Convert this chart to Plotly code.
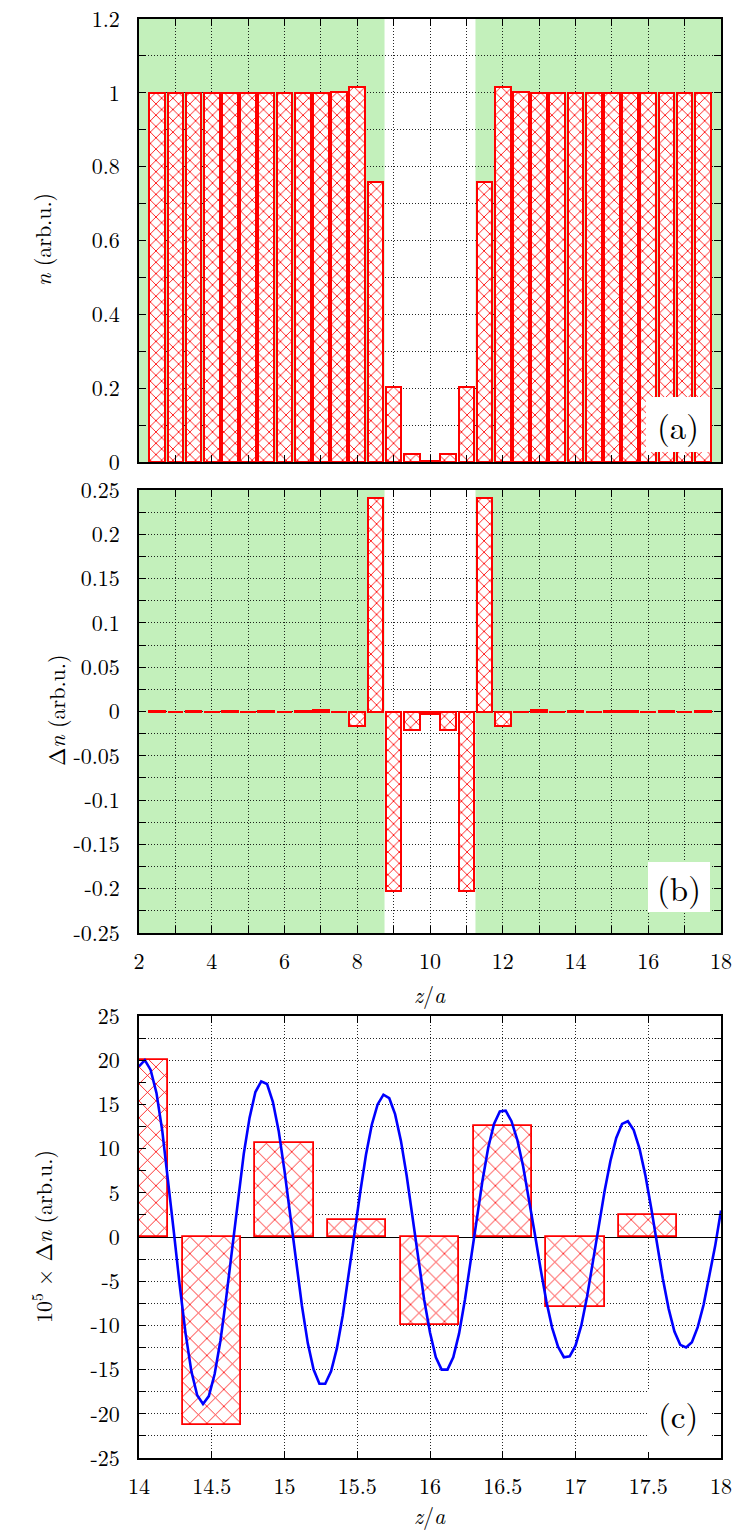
import plotly.graph_objects as go

# ---------------- data ----------------
# cell centres along z/a (panels a and b)
z_cells = [2.5, 3.0, 3.5, 4.0, 4.5, 5.0, 5.5, 6.0, 6.5, 7.0, 7.5, 8.0, 8.5, 9.0, 9.5, 10.0,
           10.5, 11.0, 11.5, 12.0, 12.5, 13.0, 13.5, 14.0, 14.5, 15.0, 15.5, 16.0, 16.5, 17.0, 17.5]
# occupation n (arb.u.)
n_vals = [1.0, 1.0, 1.0, 1.0, 1.0, 1.0, 1.0, 1.0, 1.0, 1.0, 1.002, 1.016, 0.758, 0.202, 0.021, 0.004,
          0.021, 0.202, 0.758, 1.016, 1.002, 1.0, 1.0, 1.0, 1.0, 1.0, 1.0, 1.0, 1.0, 1.0, 1.0]
# deviation Δn (arb.u.)
dn_vals = [0.0003, -0.0002, 0.0003, -0.0003, 0.0002, -0.0002, 0.0003, -0.0002, 0.0003, 0.0012,
           -0.0005, -0.0165, 0.2405, -0.2025, -0.0205, -0.0025, -0.0205, -0.2025, 0.2405, -0.0165,
           -0.0005, 0.0012, -0.0004, 0.0002, -0.000213, 0.000106, 0.000019, -0.000099, 0.000126,
           -0.000079, 0.000025]

# zoomed tail, 10^5 x Δn
z_tail = [14.0, 14.5, 15.0, 15.5, 16.0, 16.5, 17.0, 17.5]
dn_tail = [20.0, -21.3, 10.6, 1.9, -9.9, 12.6, -7.9, 2.5]

# continuous profile, 10^5 x Δn
z_curve = [14.00, 14.04, 14.08, 14.12, 14.16, 14.20, 14.24, 14.28, 14.32, 14.36, 14.40, 14.44,
           14.48, 14.52, 14.56, 14.60, 14.64, 14.68, 14.72, 14.76, 14.80, 14.84,
           14.88, 14.92, 14.96, 15.00, 15.04, 15.08, 15.12, 15.16, 15.20, 15.24,
           15.28, 15.32, 15.36, 15.40, 15.44, 15.48, 15.52, 15.56, 15.60, 15.64, 15.68,
           15.72, 15.76, 15.80, 15.84, 15.88, 15.92, 15.96, 16.00, 16.04, 16.08,
           16.12, 16.16, 16.20, 16.24, 16.28, 16.32, 16.36, 16.40, 16.44, 16.48,
           16.52, 16.56, 16.60, 16.64, 16.68, 16.72, 16.76, 16.80, 16.84, 16.88, 16.92,
           16.96, 17.00, 17.04, 17.08, 17.12, 17.16, 17.20, 17.24, 17.28, 17.32,
           17.36, 17.40, 17.44, 17.48, 17.52, 17.56, 17.60, 17.64, 17.68, 17.72,
           17.76, 17.80, 17.84, 17.88, 17.92, 17.96, 18.00]
dn_curve = [19.3, 20.0, 18.9, 16.3, 12.0, 6.6, 0.5, -5.5, -10.9, -15.2, -17.9, -18.9,
            -18.0, -15.5, -11.7, -6.8, -1.3, 4.3, 9.4, 13.5, 16.4, 17.6,
            17.3, 15.3, 12.0, 7.5, 2.4, -2.8, -7.8, -12.0, -15.0, -16.6,
            -16.6, -15.2, -12.6, -8.9, -4.5, 0.3, 5.0, 9.3, 12.7, 15.0, 16.1,
            15.7, 13.9, 10.9, 6.9, 2.3, -2.5, -7.1, -10.8, -13.6, -15.0,
            -15.0, -13.6, -10.9, -7.1, -2.7, 1.9, 6.3, 10.1, 12.8, 14.2,
            14.3, 13.1, 11.0, 8.0, 4.3, 0.4, -3.6, -7.3, -10.3, -12.4, -13.6,
            -13.5, -12.3, -10.0, -6.7, -2.9, 1.2, 5.2, 8.6, 11.2, 12.8,
            13.1, 12.1, 10.0, 7.0, 3.3, -0.8, -4.7, -8.1, -10.7, -12.2,
            -12.5, -11.9, -10.2, -7.7, -4.5, -1.0, 3.0]

# shaded bulk regions (left and right of the gap)
bulk_regions = [(2.0, 8.75), (11.25, 18.0)]

# tick labels
ya_vals = [0, 0.1, 0.2, 0.3, 0.4, 0.5, 0.6, 0.7, 0.8, 0.9, 1.0, 1.1, 1.2]
ya_text = ["0", " ", "0.2", " ", "0.4", " ", "0.6", " ", "0.8", " ", "1", " ", "1.2"]
yb_vals = [-0.25, -0.225, -0.2, -0.175, -0.15, -0.125, -0.1, -0.075, -0.05, -0.025, 0,
           0.025, 0.05, 0.075, 0.1, 0.125, 0.15, 0.175, 0.2, 0.225, 0.25]
yb_text = ["-0.25", " ", "-0.2", " ", "-0.15", " ", "-0.1", " ", "-0.05", " ", "0",
           " ", "0.05", " ", "0.1", " ", "0.15", " ", "0.2", " ", "0.25"]
yc_vals = [-25, -22.5, -20, -17.5, -15, -12.5, -10, -7.5, -5, -2.5, 0,
           2.5, 5, 7.5, 10, 12.5, 15, 17.5, 20, 22.5, 25]
yc_text = ["-25", " ", "-20", " ", "-15", " ", "-10", " ", "-5", " ", "0",
           " ", "5", " ", "10", " ", "15", " ", "20", " ", "25"]
xab_vals = [2, 3, 4, 5, 6, 7, 8, 9, 10, 11, 12, 13, 14, 15, 16, 17, 18]
xab_text = ["2", " ", "4", " ", "6", " ", "8", " ", "10", " ", "12", " ", "14", " ", "16", " ", "18"]
xc_vals = [14, 14.5, 15, 15.5, 16, 16.5, 17, 17.5, 18]
xc_text = ["14", "14.5", "15", "15.5", "16", "16.5", "17", "17.5", "18"]

# ---------------- style ----------------
FONT = "Latin Modern Roman"
RED = "#ff0000"
GREEN = "#c3f0bb"
BLUE = "#0000ff"
FS = 22

W, H = 739, 1530
L, R, T, B = 139, 18, 19, 72
ph = H - T - B
pw = W - L - R


def dom(top_px, bot_px):
    return [(H - B - bot_px) / ph, (H - B - top_px) / ph]


def px_x(x):
    return (x - L) / pw


def px_y(y):
    return (H - B - y) / ph


fig = go.Figure()


def hatch_bar(x, y, xa, ya, width, size, lw, sol):
    return go.Bar(
        x=x, y=y, xaxis=xa, yaxis=ya, width=width,
        marker=dict(color="white",
                    line=dict(color=RED, width=lw),
                    pattern=dict(shape="x", fgcolor=RED, bgcolor="white",
                                 size=size, solidity=sol, fillmode="replace")),
        showlegend=False, hoverinfo="x+y",
    )


fig.add_trace(hatch_bar(z_cells, n_vals, "x", "y", 0.43, 8, 2.0, 0.2))
fig.add_trace(hatch_bar(z_cells, dn_vals, "x2", "y2", 0.43, 8, 2.0, 0.2))
fig.add_trace(hatch_bar(z_tail, dn_tail, "x3", "y3", 0.4, 12, 1.8, 0.13))
fig.add_trace(go.Scatter(x=z_curve, y=dn_curve, xaxis="x3", yaxis="y3", mode="lines",
                         line=dict(color=BLUE, width=2.6), showlegend=False))

grid = dict(showgrid=True, gridcolor="rgba(0,0,0,0.85)", gridwidth=1, griddash="1px,2px",
            showline=True, linecolor="black", linewidth=1.5, mirror="ticks",
            ticks="inside", ticklen=7, tickwidth=1, tickcolor="black", automargin=False,
            tickfont=dict(family=FONT, size=FS, color="black"), zeroline=False)

fig.update_layout(
    width=W, height=H,
    margin=dict(l=L, r=R, t=T, b=B, autoexpand=False),
    paper_bgcolor="white", plot_bgcolor="white",
    bargap=0, barmode="overlay",
    font=dict(family=FONT, color="black"),
    xaxis=dict(domain=[0, 1], anchor="y", range=[2, 18], tickmode="array",
               tickvals=xab_vals, ticktext=[" "] * len(xab_vals), **grid),
    yaxis=dict(domain=dom(19, 462), anchor="x", range=[0, 1.2], tickmode="array",
               tickvals=ya_vals, ticktext=ya_text, ticklabelstandoff=13, **grid),
    xaxis2=dict(domain=[0, 1], anchor="y2", range=[2, 18], tickmode="array",
                tickvals=xab_vals, ticktext=xab_text, ticklabelstandoff=8, **grid),
    yaxis2=dict(domain=dom(490, 933), anchor="x2", range=[-0.25, 0.25], tickmode="array",
                tickvals=yb_vals, ticktext=yb_text, ticklabelstandoff=13, **grid),
    xaxis3=dict(domain=[0, 1], anchor="y3", range=[14, 18], tickmode="array",
                tickvals=xc_vals, ticktext=xc_text, ticklabelstandoff=8, **grid),
    yaxis3=dict(domain=dom(1016, 1458), anchor="x3", range=[-25, 25], tickmode="array",
                tickvals=yc_vals, ticktext=yc_text, ticklabelstandoff=13, **grid),
)
fig.update_layout(yaxis3=dict(zeroline=True, zerolinecolor="black", zerolinewidth=1.3))

shapes = []
for xr, yr in (("x", "y domain"), ("x2", "y2 domain")):
    for x0, x1 in bulk_regions:
        shapes.append(dict(type="rect", xref=xr, yref=yr, x0=x0, x1=x1, y0=0, y1=1,
                           fillcolor=GREEN, line=dict(width=0), layer="below"))

# white label boxes
for (x0, y0, x1, y1) in ((646, 397, 710, 452), (648, 862, 710, 912), (647, 1391, 712, 1452)):
    shapes.append(dict(type="rect", xref="paper", yref="paper",
                       x0=px_x(x0), x1=px_x(x1), y0=px_y(y1), y1=px_y(y0),
                       fillcolor="white", line=dict(width=0), layer="above"))
fig.update_layout(shapes=shapes)

ann = []
for txt, (cx, cy) in (("(a)", (678, 425)), ("(b)", (679, 887)), ("(c)", (678, 1414))):
    ann.append(dict(text=txt, xref="paper", yref="paper", x=px_x(cx), y=px_y(cy),
                    xanchor="center", yanchor="middle", showarrow=False,
                    font=dict(family=FONT, size=33, color="black")))

ytitles = [("<i>n</i> (arb.u.)", 42, 240),
           ("Δ<i>n</i> (arb.u.)", 55, 711),
           ("10<sup>5</sup> × Δ<i>n</i> (arb.u.)", 42, 1237)]
for txt, cx, cy in ytitles:
    ann.append(dict(text=txt, xref="paper", yref="paper", x=px_x(cx), y=px_y(cy),
                    xanchor="center", yanchor="middle", textangle=-90, showarrow=False,
                    font=dict(family=FONT, size=FS, color="black")))

for cy in (993, 1514):
    ann.append(dict(text="<i>z</i>/<i>a</i>", xref="paper", yref="paper",
                    x=px_x(430), y=px_y(cy), xanchor="center", yanchor="middle",
                    showarrow=False, font=dict(family=FONT, size=FS, color="black")))
fig.update_layout(annotations=ann)

fig.write_html("out.html")
